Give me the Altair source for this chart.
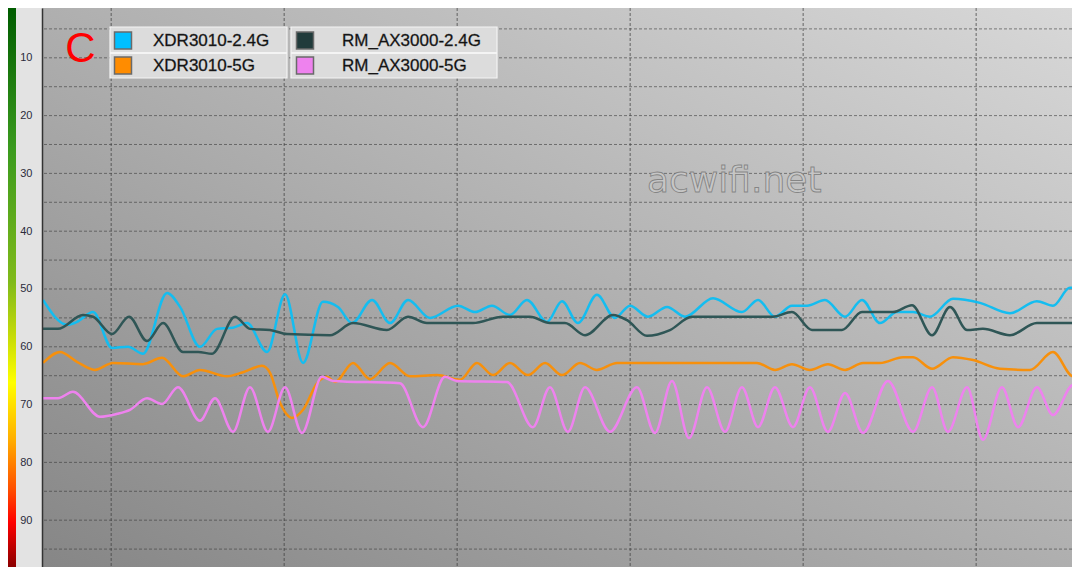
import altair as alt
import pandas as pd

SERIES = ["XDR3010-2.4G", "XDR3010-5G", "RM_AX3000-2.4G", "RM_AX3000-5G"]
LINE_COLORS = ["#14bdf0", "#f7900c", "#2f5656", "#ee82ee"]
LEGEND_COLORS = ["#00bfff", "#ff8c00", "#213b3b", "#ee82ee"]

# time (s) / signal value readings
CYAN_T = [6.06, 7.45, 8.02, 8.95, 10.05, 10.97, 11.84, 13.23, 13.98, 15.13, 16.12, 17.04, 17.85, 19.01,
          20.05, 21.09, 22.24, 23.11, 23.92, 25.08, 26.12, 27.16, 28.43, 30.05, 31.03, 32.01, 33.05, 34.03,
          35.19, 36.06, 36.98, 38.08, 39.12, 39.99, 41.03, 42.13, 43.17, 44.79, 46.46, 47.39, 48.37, 49.35,
          50.22, 51.26, 52.42, 53.40, 54.44, 55.42, 56.35, 57.33, 58.66, 60.22, 61.95, 63.51, 64.44, 65.42, 66.0]
CYAN_V = [51.9, 56.2, 55.7, 54.0, 60.2, 60.0, 61.2, 50.7, 53.1, 60.0, 56.9, 56.7, 55.9, 60.9,
          50.9, 62.8, 52.2, 53.1, 55.9, 51.9, 55.9, 51.9, 55.0, 52.9, 54.0, 52.9, 54.5, 51.9,
          55.7, 52.1, 55.9, 51.0, 55.0, 52.9, 54.8, 53.1, 54.8, 51.6, 54.0, 51.9, 54.8, 52.9,
          52.9, 51.9, 54.8, 51.9, 55.9, 54.0, 54.0, 54.8, 51.7, 52.4, 54.2, 52.1, 52.9, 49.8, 49.8]

ORANGE_T = [6.06, 7.04, 8.02, 9.06, 10.10, 11.84, 12.94, 14.15, 15.13, 16.69, 17.62, 18.72, 19.18, 19.76,
            20.45, 21.09, 21.90, 22.47, 22.94, 23.98, 24.96, 26.12, 27.27, 28.83, 30.16, 31.14, 32.07, 33.05,
            34.09, 35.08, 36.06, 37.10, 38.08, 39.24, 47.33, 48.37, 49.35, 50.39, 51.43, 52.42, 53.46, 54.44,
            55.77, 56.35, 57.45, 58.66, 59.82, 61.38, 63.11, 64.44, 65.60, 66.0]
ORANGE_V = [62.8, 60.9, 62.6, 64.0, 62.8, 63.0, 61.9, 65.1, 64.0, 65.1, 64.4, 63.3, 64.5, 69.7,
            72.3, 70.9, 66.3, 65.2, 66.1, 62.8, 65.6, 62.8, 65.1, 64.9, 65.7, 62.8, 64.9, 62.8,
            64.9, 62.8, 64.9, 62.8, 64.0, 62.8, 62.8, 64.0, 63.0, 64.0, 63.0, 64.0, 62.8, 62.8,
            61.8, 61.8, 63.8, 61.8, 62.3, 63.8, 64.0, 60.9, 65.1, 64.9]

DARK_T = [6.06, 6.92, 8.37, 8.95, 10.05, 11.03, 12.07, 13.0, 14.15, 15.02, 15.83, 17.16, 18.02, 19.18,
          20.16, 22.65, 23.98, 25.94, 27.16, 28.25, 30.91, 32.65, 34.21, 35.36, 36.23, 37.39, 39.01, 39.82,
          40.97, 42.30, 43.57, 46.35, 48.25, 49.35, 50.51, 52.24, 53.40, 55.19, 56.29, 57.45, 58.49, 59.47,
          60.39, 61.95, 63.51, 66.0]
DARK_V = [56.9, 56.9, 54.5, 54.8, 57.8, 54.8, 59.0, 55.9, 60.9, 60.9, 61.2, 54.8, 56.9, 57.1,
          57.8, 58.0, 55.9, 57.1, 54.8, 55.9, 55.9, 54.8, 54.8, 55.9, 55.9, 58.0, 54.5, 55.4,
          58.1, 57.1, 54.8, 54.8, 54.8, 54.0, 57.1, 57.1, 54.0, 54.0, 52.8, 58.0, 53.1, 57.1,
          56.9, 58.0, 55.9, 55.9]

PINK_T = [6.06, 6.92, 7.79, 9.35, 10.34, 11.09, 12.07, 12.94, 13.86, 15.13, 16.0, 17.04, 18.02, 19.06,
          20.05, 21.03, 22.18, 22.82, 26.69, 28.02, 29.29, 29.99, 32.88, 34.38, 35.36, 36.40, 37.39, 38.83,
          40.39, 41.43, 42.42, 43.40, 44.44, 45.48, 46.46, 47.39, 48.37, 49.41, 50.39, 51.43, 52.42, 53.46,
          54.90, 56.35, 57.45, 58.37, 59.47, 60.39, 61.49, 62.42, 63.51, 64.44, 65.60, 66.0]
PINK_V = [68.9, 68.9, 67.8, 72.1, 71.6, 70.9, 68.9, 69.9, 67.0, 72.8, 68.9, 74.7, 67.0, 74.7,
          67.0, 74.9, 65.2, 65.9, 66.3, 73.9, 65.2, 65.9, 66.1, 73.9, 67.0, 74.7, 67.0, 74.7,
          67.0, 74.9, 65.9, 75.8, 67.0, 74.7, 67.0, 73.9, 67.0, 73.9, 67.0, 74.7, 68.0, 74.9,
          65.9, 74.7, 67.0, 74.7, 67.0, 76.1, 67.0, 73.9, 67.0, 71.8, 66.6, 66.6]

GRID_Y = [5, 10, 15, 20, 25, 30, 35, 40, 45, 50, 55, 60, 65, 70, 75, 80, 85, 90, 95]
GRID_X = [10, 20, 30, 40, 50, 60]
Y_LABELS = [10, 20, 30, 40, 50, 60, 70, 80, 90]

W, H = 1030, 559
xs = alt.Scale(domain=[6, 65.54], nice=False, zero=False)
ys = alt.Scale(domain=[1.384, 98.10], reverse=True, nice=False, zero=False)

YAXIS = alt.Axis(values=Y_LABELS, grid=False, ticks=False, domain=True, domainColor="#333333",
                 domainWidth=1.5, labelPadding=10, labelFontSize=11, labelFont="Liberation Sans",
                 labelColor="#2b2b3b", title=None, zindex=1, labelFlush=False)

one = pd.DataFrame({"a": [0]})

bg = alt.Chart(one).mark_rect(
    fill=alt.Gradient(gradient="linear",
                      stops=[alt.GradientStop(color="#868686", offset=0),
                             alt.GradientStop(color="#d8d8d8", offset=1)],
                      x1=0, y1=1, x2=1, y2=0)
).encode(x=alt.value(0), x2=alt.value(W), y=alt.value(0), y2=alt.value(H))

strip = alt.Chart(one).mark_rect(
    fill=alt.Gradient(gradient="linear",
                      stops=[alt.GradientStop(color="#005c00", offset=0),
                             alt.GradientStop(color="#3a9a1e", offset=0.25),
                             alt.GradientStop(color="#80ba1a", offset=0.49),
                             alt.GradientStop(color="#c8dc08", offset=0.59),
                             alt.GradientStop(color="#ffff00", offset=0.67),
                             alt.GradientStop(color="#ffb000", offset=0.77),
                             alt.GradientStop(color="#ff5000", offset=0.86),
                             alt.GradientStop(color="#ff0000", offset=0.92),
                             alt.GradientStop(color="#8a0000", offset=1)],
                      x1=0, y1=0, x2=0, y2=1)
).encode(x=alt.value(-34), x2=alt.value(-26), y=alt.value(0), y2=alt.value(H))

labelbg = alt.Chart(one).mark_rect(fill="#e3e3e3").encode(
    x=alt.value(-26), x2=alt.value(0), y=alt.value(0), y2=alt.value(H))

hgrid = alt.Chart(pd.DataFrame({"v": GRID_Y})).mark_rule(
    color="#3c3c3c", strokeDash=[3, 2], strokeWidth=1, opacity=0.6
).encode(y=alt.Y("v:Q", scale=ys, axis=YAXIS))

vgrid = alt.Chart(pd.DataFrame({"t": GRID_X})).mark_rule(
    color="#3c3c3c", strokeDash=[3, 2], strokeWidth=1.2, opacity=0.6
).encode(x=alt.X("t:Q", scale=xs, axis=None))

watermark = alt.Chart(one).mark_text(
    text="acwifi.net", font="DejaVu Sans", fontSize=36, align="left", baseline="alphabetic",
    fill="#c6c6c6", stroke="#6a6a6a", strokeWidth=0.9, strokeOpacity=0.7
).encode(x=alt.value(605), y=alt.value(184))

series_data = [(CYAN_T, CYAN_V), (ORANGE_T, ORANGE_V), (DARK_T, DARK_V), (PINK_T, PINK_V)]
line_layers = []
for i, (name, (ts, vs)) in enumerate(zip(SERIES, series_data)):
    d = pd.DataFrame({"t": ts, "v": vs, "series": name})
    line_layers.append(
        alt.Chart(d).mark_line(interpolate="monotone", strokeWidth=2.5, clip=True, color=LINE_COLORS[i]).encode(
            x=alt.X("t:Q", scale=xs, axis=None),
            y=alt.Y("v:Q", scale=ys, axis=YAXIS),
        )
    )

# legend (two boxed columns)
COL_X = [(68, 245), (249, 455)]
ROW_Y = [(19, 44.5), (45.5, 70)]
SQ_X = [81, 263]
TX_X = [111, 300]
ROW_C = [32.5, 57.5]
legend_layers = []
for i, name in enumerate(SERIES):
    col, row = (0 if i < 2 else 1), i % 2
    legend_layers.append(alt.Chart(one).mark_rect(fill="#dcdcdc", stroke="#f4f4f4", strokeWidth=1.2).encode(
        x=alt.value(COL_X[col][0]), x2=alt.value(COL_X[col][1]),
        y=alt.value(ROW_Y[row][0]), y2=alt.value(ROW_Y[row][1])))
    legend_layers.append(alt.Chart(one).mark_point(shape="square", filled=True, size=289, opacity=1,
                                                   fill=LEGEND_COLORS[i], stroke="#6a6a6a", strokeWidth=1.5).encode(
        x=alt.value(SQ_X[col]), y=alt.value(ROW_C[row])))
    legend_layers.append(alt.Chart(one).mark_text(text=name, font="Liberation Sans", fontSize=17, align="left",
                                                  baseline="middle", fill="#0a0a0a", stroke="#3a3a3a",
                                                  strokeWidth=0.35).encode(
        x=alt.value(TX_X[col]), y=alt.value(ROW_C[row])))

c_label = alt.Chart(one).mark_text(text="C", font="Liberation Sans", fontSize=42, color="#ff0000",
                                   align="center", baseline="middle").encode(x=alt.value(38.5), y=alt.value(41))

chart = alt.layer(
    bg, strip, labelbg, hgrid, vgrid, watermark, *line_layers, *legend_layers, c_label
).properties(
    width=W, height=H, autosize="none",
    padding={"left": 34, "top": 0, "right": 0, "bottom": 0},
).configure_view(stroke=None)

chart.save("out.html", embed_options={"renderer": "svg", "actions": False})
